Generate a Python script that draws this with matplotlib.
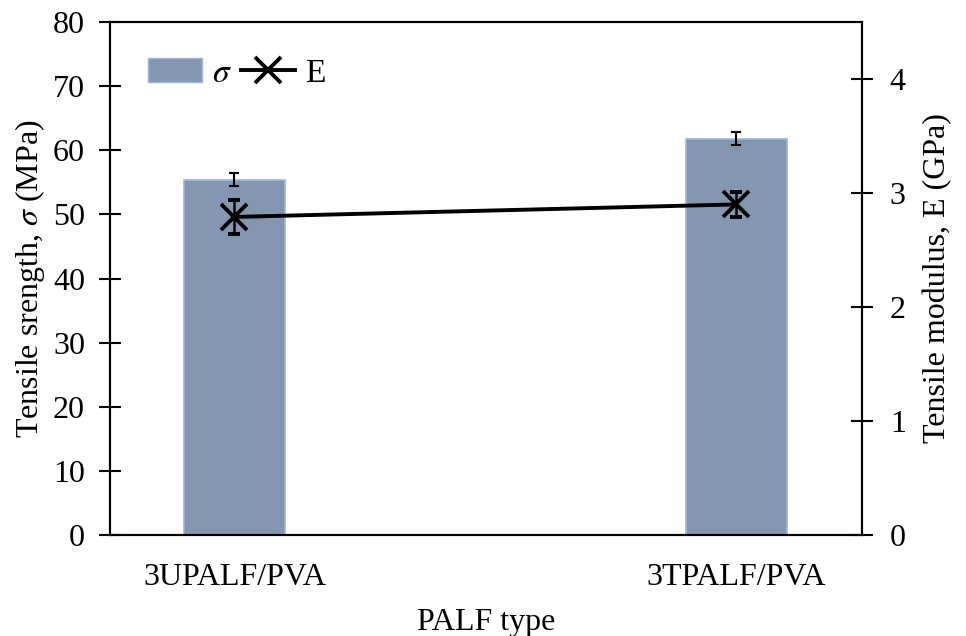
import matplotlib.pyplot as plt
from matplotlib.lines import Line2D
from matplotlib.patches import Patch

# datos
categorias = ['3UPALF/PVA', '3TPALF/PVA']
sigma = [55.4, 61.8]
sigma_err = [1.0, 1.0]
modulo = [2.79, 2.90]
modulo_err = [0.15, 0.11]

plt.rcParams['font.family'] = 'Liberation Serif'
plt.rcParams['mathtext.fontset'] = 'stix'
plt.rcParams['font.size'] = 23

fig = plt.figure(figsize=(9.66, 6.36), dpi=100)
ax = fig.add_axes([110 / 966, 1 - 535 / 636, 752 / 966, 513 / 636])

x = list(range(len(categorias)))
ax.bar(x, sigma, width=0.2, color='#8497B0', edgecolor='#9DB5E3', linewidth=1.2,
       yerr=sigma_err, error_kw=dict(ecolor='black', elinewidth=1.5, capsize=3.5, capthick=1.5))
ax.set_xlim(-0.248, 1.25)
ax.set_ylim(0, 80)
ax.set_yticks(range(0, 81, 10))
ax.set_xticks(x)
ax.set_xticklabels(categorias)
ax.set_ylabel(r'Tensile srength, $\sigma$ (MPa)', labelpad=4)
ax.set_xlabel('PALF type', labelpad=12)
ax.tick_params(axis='x', length=0, pad=20)
ax.tick_params(axis='y', direction='inout', length=16, width=1.5, pad=10)
for s in ax.spines.values():
    s.set_linewidth(1.5)

ax2 = ax.twinx()
ax2.errorbar(x, modulo, yerr=modulo_err, color='black', linewidth=2.8, marker='x',
             markersize=19, markeredgewidth=2.8, ecolor='black', elinewidth=1.8,
             capsize=4.5, capthick=1.8)
ax2.set_ylim(0, 4.5)
ax2.set_yticks(range(0, 5))
ax2.set_ylabel('Tensile modulus, E (GPa)', labelpad=12)
ax2.tick_params(axis='y', direction='inout', length=16, width=1.5, pad=12)
for s in ax2.spines.values():
    s.set_linewidth(1.5)

handles = [Patch(facecolor='#8497B0', edgecolor='#9DB5E3'),
           Line2D([], [], color='black', linewidth=2.8, marker='x', markersize=19, markeredgewidth=2.8)]
ax.legend(handles, [r'$\sigma$', 'E'], loc='upper left', ncol=2, frameon=False,
          bbox_to_anchor=(0.011, 0.988), handlelength=1.6, handletextpad=0.3, columnspacing=0.3,
          fontsize=24)

fig.savefig('out.png', dpi=100)
